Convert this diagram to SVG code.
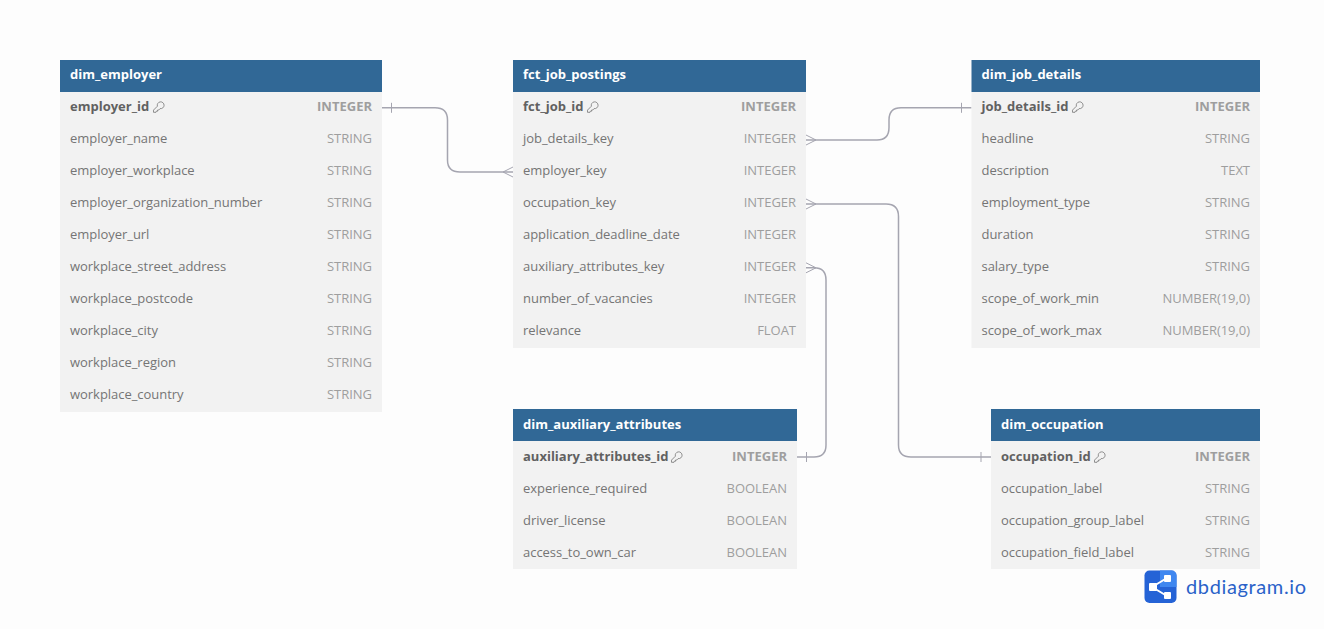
<svg xmlns="http://www.w3.org/2000/svg" width="1324" height="629" viewBox="0 0 1324 629">
<style>
text{font-family:"Open Sans","Noto Sans","DejaVu Sans",sans-serif;font-size:13px}
.body{fill:#f2f2f2}.head{fill:#316896}
.title{fill:#fff;font-weight:700}
.n{fill:#757575;letter-spacing:-.035px}.k{fill:#616161;font-weight:700}
.t{fill:#9e9e9e;text-anchor:end;letter-spacing:-.035px}.tk{fill:#9e9e9e;text-anchor:end;font-weight:700}
.c{fill:none;stroke:#a5a5b0;stroke-width:1.5}
.m{fill:none;stroke:#a5a5b0;stroke-width:1}
.key{fill:none;stroke:#757575;stroke-width:.8}
</style>
<defs>
<g id="key"><path d="M4.400 -4.800L.5 -.9V1.300H3L3.400 .2H4.600V-1H5.800L7.100 -2.400A3.400 3.400 0 1 0 4.400 -4.800Z" class="key"/></g>
</defs>
<rect width="1324" height="629" fill="#fdfdfd"/>
<g id="connectors">
<path class="c" d="M382 107.800H435Q447.500 107.800 447.500 120V160Q447.500 172 460 172H513"/>
<path class="m" d="M391.500 102.800V112.800M513 167L503 172L513 177"/>
<path class="c" d="M806 140H877Q889 140 889 127.500V120Q889 107.800 901 107.800H971.500"/>
<path class="m" d="M961.500 102.800V112.800M806 135L816 140L806 145"/>
<path class="c" d="M806 204H886Q898.500 204 898.500 216.500V445Q898.500 457 911 457H991"/>
<path class="m" d="M981 452V462M806 199L816 204L806 209"/>
<path class="c" d="M806 267.800H814Q826 267.800 826 280V445Q826 457 814 457H797"/>
<path class="m" d="M806.500 452V462M806 262.800L816 267.800L806 272.800"/>
</g>
<g id="dim_employer">
<rect class="body" x="60" y="92" width="322" height="320"/><rect class="head" x="60" y="60" width="322" height="32"/>
<text class="title" x="70" y="79">dim_employer</text>
<text class="k" x="70" y="111">employer_id</text><use href="#key" x="153" y="111"/><text class="tk" x="372" y="111">INTEGER</text>
<text class="n" x="70" y="143">employer_name</text><text class="t" x="372" y="143">STRING</text>
<text class="n" x="70" y="175">employer_workplace</text><text class="t" x="372" y="175">STRING</text>
<text class="n" x="70" y="207">employer_organization_number</text><text class="t" x="372" y="207">STRING</text>
<text class="n" x="70" y="239">employer_url</text><text class="t" x="372" y="239">STRING</text>
<text class="n" x="70" y="271">workplace_street_address</text><text class="t" x="372" y="271">STRING</text>
<text class="n" x="70" y="303">workplace_postcode</text><text class="t" x="372" y="303">STRING</text>
<text class="n" x="70" y="335">workplace_city</text><text class="t" x="372" y="335">STRING</text>
<text class="n" x="70" y="367">workplace_region</text><text class="t" x="372" y="367">STRING</text>
<text class="n" x="70" y="399">workplace_country</text><text class="t" x="372" y="399">STRING</text>
</g>
<g id="fct_job_postings">
<rect class="body" x="513" y="92" width="293" height="256"/><rect class="head" x="513" y="60" width="293" height="32"/>
<text class="title" x="523" y="79">fct_job_postings</text>
<text class="k" x="523" y="111">fct_job_id</text><use href="#key" x="587" y="111"/><text class="tk" x="796" y="111">INTEGER</text>
<text class="n" x="523" y="143">job_details_key</text><text class="t" x="796" y="143">INTEGER</text>
<text class="n" x="523" y="175">employer_key</text><text class="t" x="796" y="175">INTEGER</text>
<text class="n" x="523" y="207">occupation_key</text><text class="t" x="796" y="207">INTEGER</text>
<text class="n" x="523" y="239">application_deadline_date</text><text class="t" x="796" y="239">INTEGER</text>
<text class="n" x="523" y="271">auxiliary_attributes_key</text><text class="t" x="796" y="271">INTEGER</text>
<text class="n" x="523" y="303">number_of_vacancies</text><text class="t" x="796" y="303">INTEGER</text>
<text class="n" x="523" y="335">relevance</text><text class="t" x="796" y="335">FLOAT</text>
</g>
<g id="dim_job_details">
<rect class="body" x="971.500" y="92" width="288.500" height="256"/><rect class="head" x="971.500" y="60" width="288.500" height="32"/>
<text class="title" x="981.500" y="79">dim_job_details</text>
<text class="k" x="981.500" y="111">job_details_id</text><use href="#key" x="1072" y="111"/><text class="tk" x="1250" y="111">INTEGER</text>
<text class="n" x="981.500" y="143">headline</text><text class="t" x="1250" y="143">STRING</text>
<text class="n" x="981.500" y="175">description</text><text class="t" x="1250" y="175">TEXT</text>
<text class="n" x="981.500" y="207">employment_type</text><text class="t" x="1250" y="207">STRING</text>
<text class="n" x="981.500" y="239">duration</text><text class="t" x="1250" y="239">STRING</text>
<text class="n" x="981.500" y="271">salary_type</text><text class="t" x="1250" y="271">STRING</text>
<text class="n" x="981.500" y="303">scope_of_work_min</text><text class="t" x="1250" y="303">NUMBER(19,0)</text>
<text class="n" x="981.500" y="335">scope_of_work_max</text><text class="t" x="1250" y="335">NUMBER(19,0)</text>
</g>
<g id="dim_auxiliary_attributes">
<rect class="body" x="513" y="441" width="284" height="128"/><rect class="head" x="513" y="409" width="284" height="32"/>
<text class="title" x="523" y="429">dim_auxiliary_attributes</text>
<text class="k" x="523" y="461">auxiliary_attributes_id</text><use href="#key" x="671" y="461"/><text class="tk" x="787" y="461">INTEGER</text>
<text class="n" x="523" y="493">experience_required</text><text class="t" x="787" y="493">BOOLEAN</text>
<text class="n" x="523" y="525">driver_license</text><text class="t" x="787" y="525">BOOLEAN</text>
<text class="n" x="523" y="557">access_to_own_car</text><text class="t" x="787" y="557">BOOLEAN</text>
</g>
<g id="dim_occupation">
<rect class="body" x="991" y="441" width="269" height="128"/><rect class="head" x="991" y="409" width="269" height="32"/>
<text class="title" x="1001" y="429">dim_occupation</text>
<text class="k" x="1001" y="461">occupation_id</text><use href="#key" x="1094" y="461"/><text class="tk" x="1250" y="461">INTEGER</text>
<text class="n" x="1001" y="493">occupation_label</text><text class="t" x="1250" y="493">STRING</text>
<text class="n" x="1001" y="525">occupation_group_label</text><text class="t" x="1250" y="525">STRING</text>
<text class="n" x="1001" y="557">occupation_field_label</text><text class="t" x="1250" y="557">STRING</text>
</g>
<g id="logo">
<rect x="1144.500" y="570.500" width="32" height="32.500" rx="5" fill="#2563d6"/>
<path d="M1160 570.500H1171.500a5 5 0 0 1 5 5V587H1160Z" fill="#3f87f0"/>
<path d="M1152 587L1167 578M1152 587L1167 596" stroke="#fff" stroke-width="2" fill="none"/>
<rect x="1149" y="583" width="8" height="8" rx="1" fill="#fff"/><rect x="1164" y="575" width="7" height="7" rx="1" fill="#fff"/><rect x="1164" y="592" width="7" height="7" rx="1" fill="#fff"/>
<text x="1186" y="594" style="font-family:Lato,'Noto Sans',sans-serif;font-size:20px;letter-spacing:.63px" fill="#2a62c9">dbdiagram.io</text>
</g>
</svg>
